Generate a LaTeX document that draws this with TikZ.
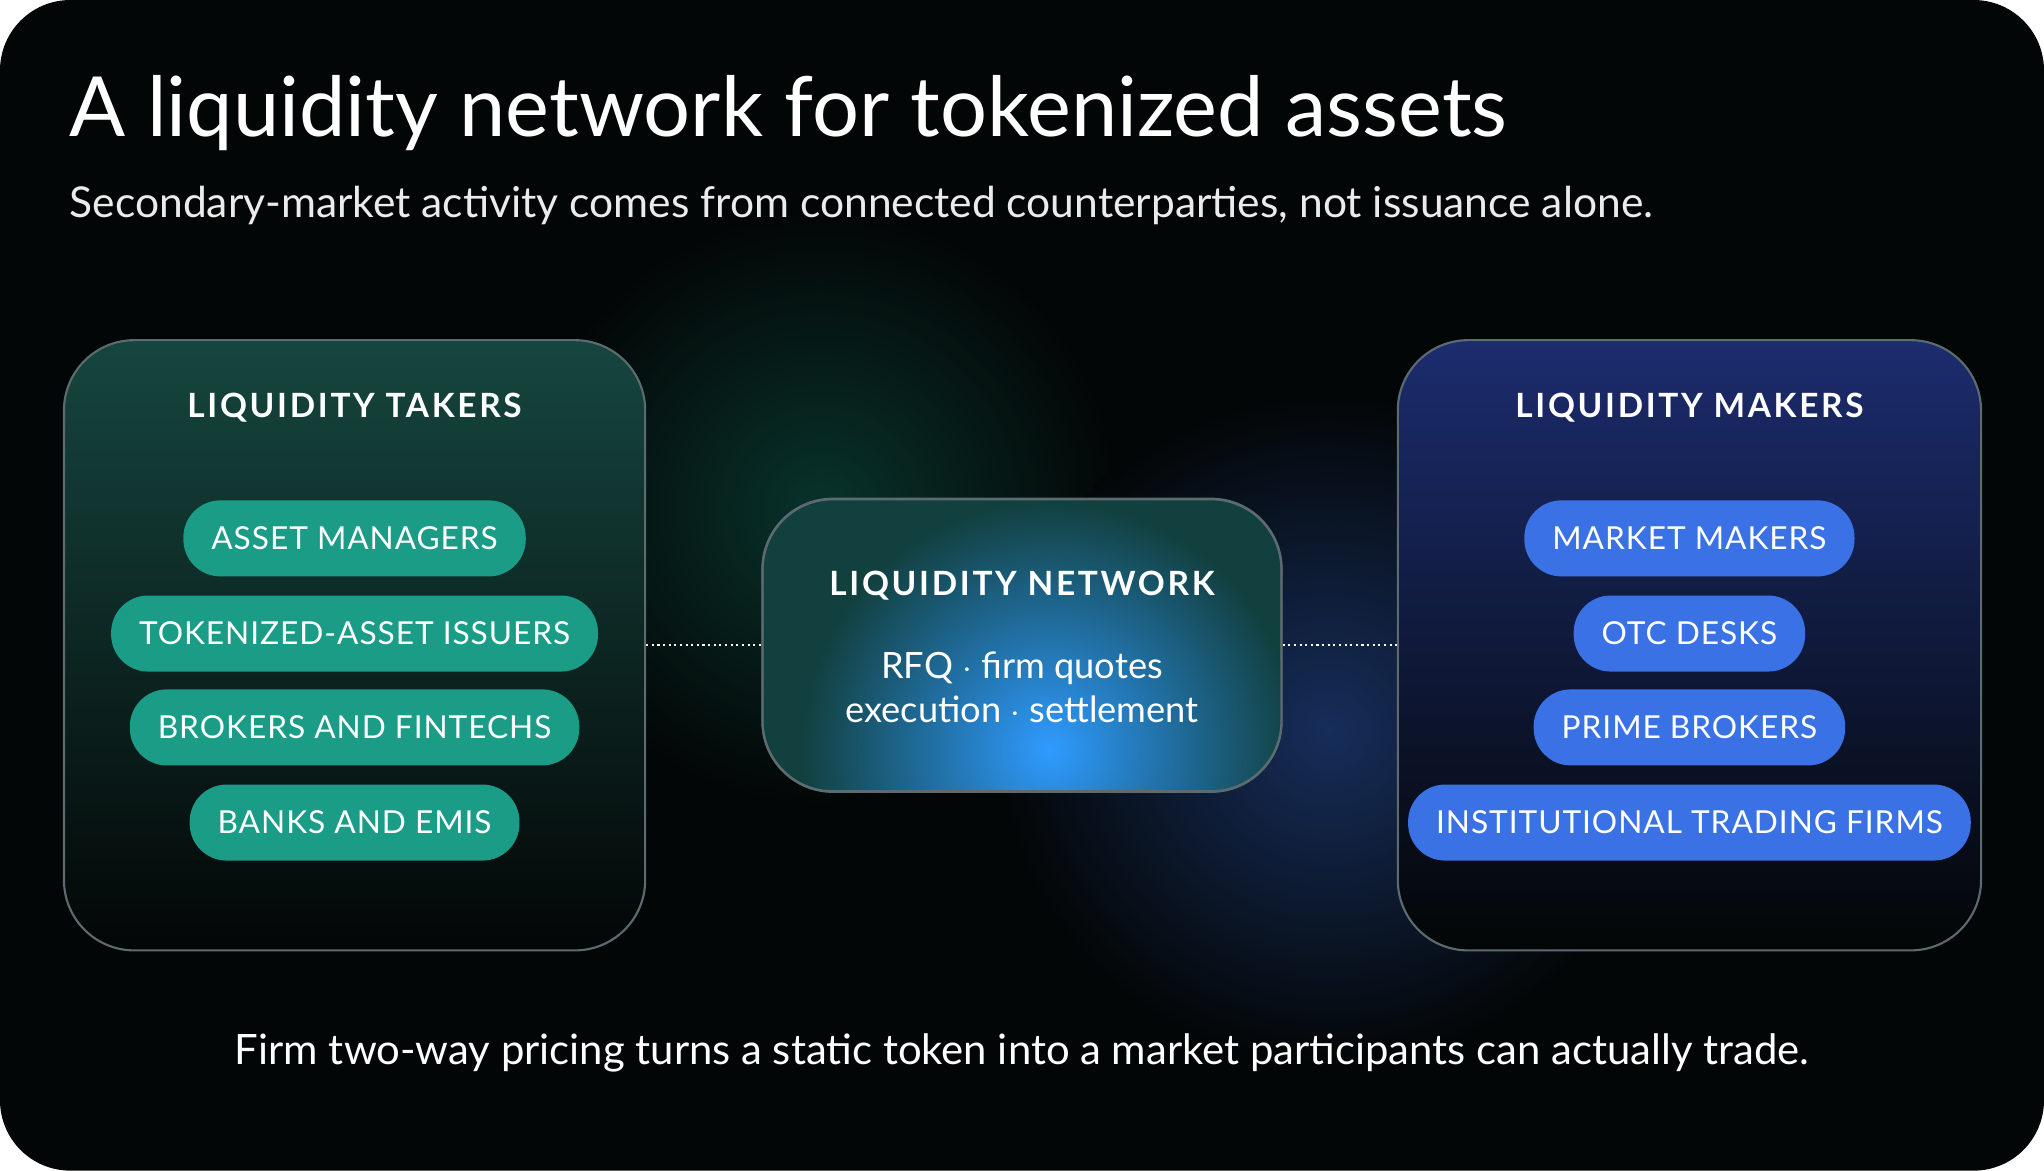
\documentclass[tikz,border=0pt]{standalone}
\usepackage{fontspec}
\setmainfont{Lato}
\newfontfamily\spacedfont[LetterSpace=8]{Lato}
\newfontfamily\pillfont[LetterSpace=3]{Lato}
\usetikzlibrary{positioning, backgrounds}
\definecolor{bgblack}{HTML}{030606}
\definecolor{takerteal}{HTML}{1A9C86}
\definecolor{makerblue}{HTML}{3A72E6}
\definecolor{takerpanel}{HTML}{16463F}
\definecolor{makerpanel}{HTML}{1C2C6E}
\definecolor{netpanel}{HTML}{12403F}
\definecolor{glowblue}{HTML}{2F9BFF}
\definecolor{edgegray}{HTML}{5C6B70}
\tikzstyle{panel} = [rectangle, rounded corners=20, draw=edgegray, line width=0.6pt]
\tikzstyle{heading} = [text=white, font=\spacedfont\bfseries\fontsize{9.5}{11}\selectfont]
\tikzstyle{taker} = [rectangle, rounded corners=0.37cm, fill=takerteal, text=white, minimum height=0.76cm, inner xsep=0.28cm, font=\pillfont\fontsize{9}{11}\selectfont]
\tikzstyle{maker} = [taker, fill=makerblue]
\tikzstyle{link} = [white, densely dotted, line width=0.6pt]
\begin{document}
\begin{tikzpicture}[x={(0.013036cm,0)}, y={(0,-0.013036cm)}]
    % background
    \fill[bgblack, rounded corners=20] (0,0) rectangle (1568,898);
    \useasboundingbox (0,0) rectangle (1568,898);
    \begin{scope}
      \clip[rounded corners=20] (0,0) rectangle (1568,898);
      \shade[inner color=takerteal!45!black, outer color=bgblack, opacity=0.7] (630,390) circle (230);
      \shade[inner color=makerblue!55!black, outer color=bgblack, opacity=0.7] (1020,560) circle (260);
    \end{scope}
    % title
    \node (title) [anchor=west, text=white, font=\fontsize{23.6}{28}\selectfont] at (44,87) {A liquidity network for tokenized assets};
    \node (sub) [anchor=west, text=white!92!black, font=\fontsize{12.1}{15}\selectfont] at (44,158) {Secondary-market activity comes from connected counterparties, not issuance alone.};
    % panels
    \node (takers) [panel, top color=takerpanel, bottom color=bgblack, minimum width=5.81cm, minimum height=6.1cm] at (272,495) {};
    \node (makers) [panel, top color=makerpanel, bottom color=bgblack, minimum width=5.83cm, minimum height=6.1cm] at (1296,495) {};
    \node (net) [panel, fill=netpanel, minimum width=5.19cm, minimum height=2.93cm] at (784,495) {};
    \begin{scope}
      \clip[rounded corners=20] (585,383) rectangle (983,607);
      \shade[inner color=glowblue, outer color=netpanel] (805,575) circle (190);
    \end{scope}
    \draw[edgegray, rounded corners=20, line width=0.6pt] (585,383) rectangle (983,607);
    % headings
    \node (takerhead) [heading] at (272,313) {LIQUIDITY TAKERS};
    \node (makerhead) [heading] at (1296,313) {LIQUIDITY MAKERS};
    \node (nethead) [heading] at (784,449) {LIQUIDITY NETWORK};
    \node (netbody) [text=white, align=center, font=\fontsize{10.3}{12.6}\selectfont] at (784,527) {RFQ $\cdot$ firm quotes\\execution $\cdot$ settlement};
    % takers
    \node (t1) [taker] at (272,413) {ASSET MANAGERS};
    \node (t2) [taker] at (272,486) {TOKENIZED-ASSET ISSUERS};
    \node (t3) [taker] at (272,558) {BROKERS AND FINTECHS};
    \node (t4) [taker] at (272,631) {BANKS AND EMIS};
    % makers
    \node (m1) [maker] at (1296,413) {MARKET MAKERS};
    \node (m2) [maker] at (1296,486) {OTC DESKS};
    \node (m3) [maker] at (1296,558) {PRIME BROKERS};
    \node (m4) [maker] at (1296,631) {INSTITUTIONAL TRADING FIRMS};
    % links
    \draw [link] (takers.east) -- (net.west);
    \draw [link] (net.east) -- (makers.west);
    % footer
    \node (foot) [text=white, font=\fontsize{11.9}{15}\selectfont] at (784,808) {Firm two-way pricing turns a static token into a market participants can actually trade.};
\end{tikzpicture}
\end{document}
